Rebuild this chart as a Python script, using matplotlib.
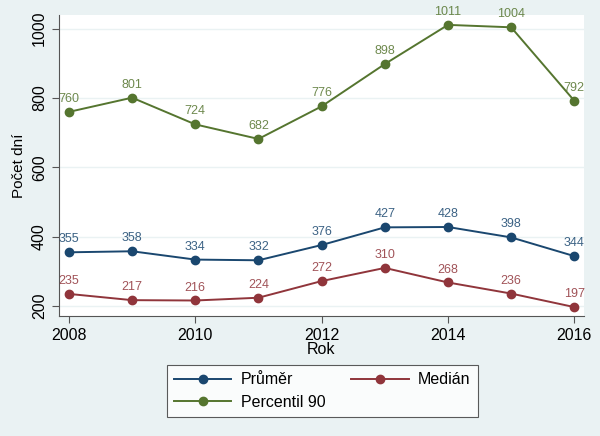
import matplotlib.pyplot as plt
import numpy as np

plt.rcParams['font.family'] = ['Liberation Sans', 'DejaVu Sans']

years = [2008, 2009, 2010, 2011, 2012, 2013, 2014, 2015, 2016]
prumer = [355, 358, 334, 332, 376, 427, 428, 398, 344]
median = [235, 217, 216, 224, 272, 310, 268, 236, 197]
perc90 = [760, 801, 724, 682, 776, 898, 1011, 1004, 792]

bg = '#eaf2f3'
c_prumer = '#1a476f'
c_median = '#90353b'
c_perc = '#55752f'

fig = plt.figure(figsize=(6, 4.36), dpi=100, facecolor=bg)
ax = fig.add_axes([0.098, 0.275, 0.875, 0.691])
ax.set_facecolor('white')

series = [(prumer, c_prumer, 'Průměr'), (perc90, c_perc, 'Percentil 90'),
          (median, c_median, 'Medián')]
handles = []
for vals, col, lab in series:
    h, = ax.plot(years, vals, color=col, marker='o', markersize=6, lw=1.4, label=lab)
    handles.append(h)
    for x, y in zip(years, vals):
        ax.annotate(str(y), (x, y), xytext=(0, 5), textcoords='offset points',
                    ha='center', va='bottom', color=col, fontsize=9, alpha=0.85)

ax.set_xlim(2007.84, 2016.15)
ax.set_ylim(171, 1040)
ax.set_xticks([2008, 2010, 2012, 2014, 2016])
ax.set_yticks([200, 400, 600, 800, 1000])
ax.tick_params(axis='both', labelsize=11.5, color='#555555', length=5, direction='out')
plt.setp(ax.get_yticklabels(), rotation=90, va='center')
ax.grid(axis='y', color=bg, lw=1)
ax.set_axisbelow(True)
for s in ['top', 'right']:
    ax.spines[s].set_visible(False)
for s in ['left', 'bottom']:
    ax.spines[s].set_color('#555555')
ax.set_xlabel('Rok', fontsize=11.5, labelpad=-1)
ax.set_ylabel('Počet dní', fontsize=11, labelpad=4)

leg = fig.legend(handles=handles, labels=[h.get_label() for h in handles], ncol=2,
                 loc='center', bbox_to_anchor=(0.537, 0.103), fontsize=11.5,
                 frameon=True, fancybox=False, edgecolor='#333333',
                 columnspacing=1.6, handlelength=3.6, handletextpad=0.6,
                 borderpad=0.45, labelspacing=0.45, borderaxespad=0)
leg.get_frame().set_linewidth(0.8)

plt.savefig('out.png', dpi=100, facecolor=bg)
